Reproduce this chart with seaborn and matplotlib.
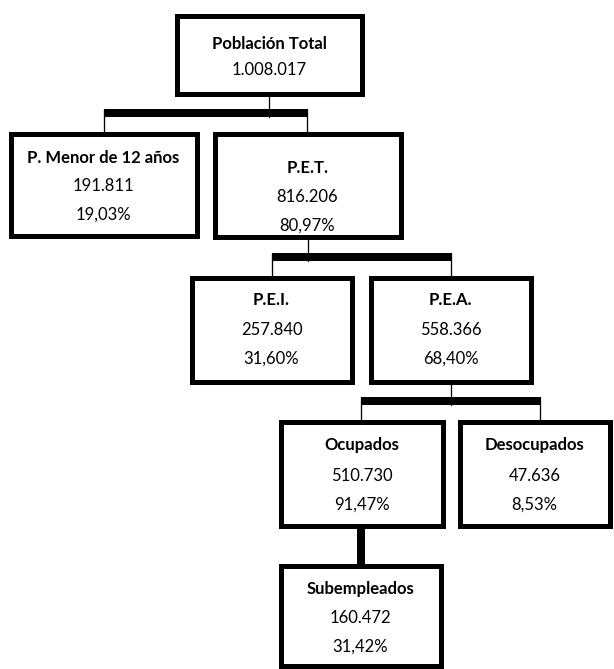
import matplotlib
matplotlib.use("Agg")
import matplotlib.pyplot as plt
from matplotlib.patches import Rectangle
import seaborn as sns

# ---- data ----
titles = ["Población Total", "P. Menor de 12 años", "P.E.T.", "P.E.I.", "P.E.A.",
          "Ocupados", "Desocupados", "Subempleados"]
values = ["1.008.017", "191.811", "816.206", "257.840", "558.366",
          "510.730", "47.636", "160.472"]
percents = ["", "19,03%", "80,97%", "31,60%", "68,40%", "91,47%", "8,53%", "31,42%"]
parents = [None, 0, 0, 2, 2, 4, 4, 5]

# ---- layout (pixel coordinates, outer box edges) ----
boxes = [
    (174, 13, 364, 96),
    (8, 131, 199, 238),
    (212, 131, 403, 239),
    (189, 275, 354, 384),
    (368, 275, 533, 384),
    (278, 419, 445, 528),
    (457, 419, 612, 528),
    (278, 563, 443, 668),
]
text_y = [
    (44, 70, None),
    (158, 186, 215),
    (168, 197, 226),
    (300, 330, 359),
    (300, 330, 359),
    (445, 476, 505),
    (445, 476, 505),
    (589, 618, 647),
]
# connector bars: (x0, x1, y0, y1, parent connector x)
bars = [
    (104, 307, 109, 117),
    (272, 451, 253, 261),
    (361, 540, 397, 405),
]

sns.set_theme(style="white")
plt.rcParams['font.family'] = ['Lato', 'DejaVu Sans']

fig = plt.figure(figsize=(6.14, 6.69), dpi=100)
ax = fig.add_axes([0, 0, 1, 1])
ax.set_xlim(0, 614)
ax.set_ylim(669, 0)
ax.axis("off")

lw_box = 5 * 72 / 100
thin = 1.3 * 72 / 100

for i, (x0, y0, x1, y1) in enumerate(boxes):
    ax.add_patch(Rectangle((x0 + 2.5, y0 + 2.5), x1 - x0 - 5, y1 - y0 - 5,
                           fill=True, facecolor="white", edgecolor="black",
                           linewidth=lw_box, zorder=2))
    cx = (x0 + x1) / 2
    ty, vy, py = text_y[i]
    ax.text(cx, ty, titles[i], ha="center", va="center", fontsize=12,
            fontweight="bold", color="black", zorder=3)
    ax.text(cx, vy, values[i], ha="center", va="center", fontsize=12,
            color="black", zorder=3)
    if py is not None and percents[i]:
        ax.text(cx, py, percents[i], ha="center", va="center", fontsize=12,
                color="black", zorder=3)

# horizontal connector bars with ticks
parent_of_bar = [0, 2, 4]
children_of_bar = [(1, 2), (3, 4), (5, 6)]
tick_x = [(104, 307), (272, 451), (361, 540)]
for b, (x0, x1, y0, y1) in enumerate(bars):
    p = parent_of_bar[b]
    px0, py0, px1, py1 = boxes[p]
    pcx = (px0 + px1) / 2
    # thin line from parent down to bar
    ax.plot([pcx, pcx], [py1, y1], color="black", lw=thin, zorder=1)
    ax.add_patch(Rectangle((x0, y0), x1 - x0, y1 - y0, facecolor="black",
                           edgecolor="none", zorder=1))
    c1, c2 = children_of_bar[b]
    for tx, c in zip(tick_x[b], (c1, c2)):
        ax.plot([tx, tx], [y0, boxes[c][1] + 1], color="black", lw=thin, zorder=1)

# thick connector Ocupados -> Subempleados
ax.add_patch(Rectangle((357, 526), 8, 38, facecolor="black", edgecolor="none", zorder=1))

fig.savefig("out.png", dpi=100)
